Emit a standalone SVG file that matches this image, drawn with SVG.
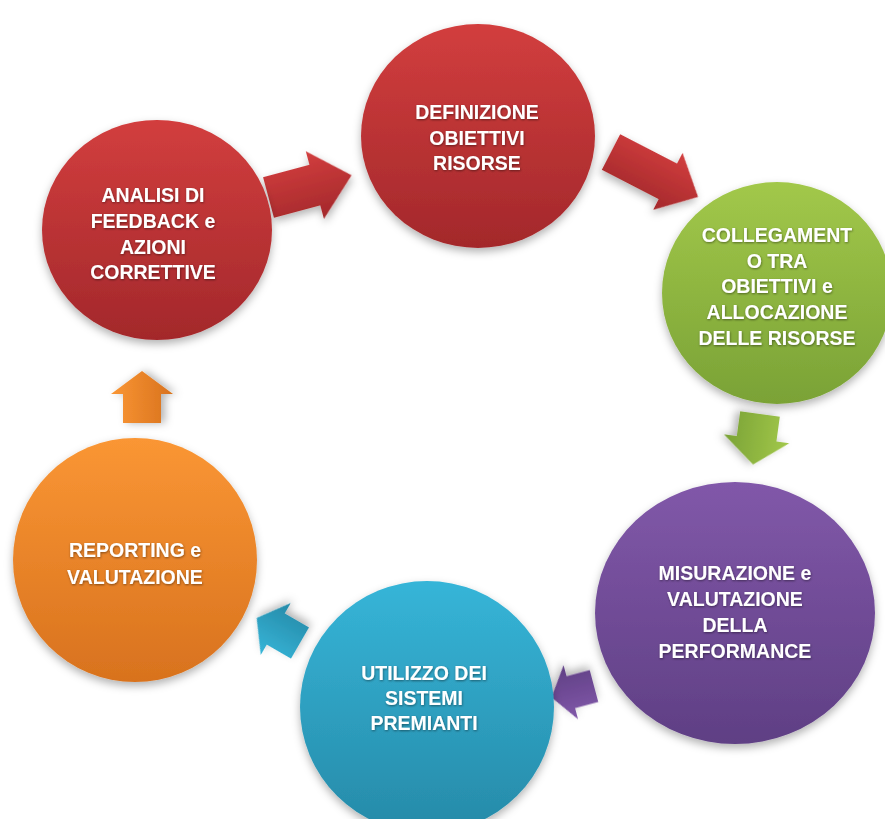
<svg xmlns="http://www.w3.org/2000/svg" width="885" height="819" viewBox="0 0 885 819">
<defs>
<linearGradient id="gRed" x1="0" y1="0" x2="0" y2="1"><stop offset="0" stop-color="#d23e3e"/><stop offset="1" stop-color="#a3282b"/></linearGradient>
<linearGradient id="gGreen" x1="0" y1="0" x2="0" y2="1"><stop offset="0" stop-color="#a2c84a"/><stop offset="1" stop-color="#7aa236"/></linearGradient>
<linearGradient id="gPurple" x1="0" y1="0" x2="0" y2="1"><stop offset="0" stop-color="#8158a9"/><stop offset="1" stop-color="#5f3f84"/></linearGradient>
<linearGradient id="gBlue" x1="0" y1="0" x2="0" y2="1"><stop offset="0" stop-color="#36b5d8"/><stop offset="1" stop-color="#268aa8"/></linearGradient>
<linearGradient id="gOrange" x1="0" y1="0" x2="0" y2="1"><stop offset="0" stop-color="#fa9634"/><stop offset="1" stop-color="#d8721e"/></linearGradient>
<filter id="sh" x="-20%" y="-20%" width="140%" height="140%"><feDropShadow dx="0" dy="4" stdDeviation="4" flood-color="#000" flood-opacity="0.3"/></filter>
<filter id="tsh" x="-10%" y="-30%" width="120%" height="160%"><feDropShadow dx="0.5" dy="1" stdDeviation="0.8" flood-color="#000" flood-opacity="0.45"/></filter>
</defs>
<style>
.lbl{font-family:"Liberation Sans",Arial,sans-serif;font-weight:bold;font-size:19.5px;fill:#ffffff;text-anchor:middle;filter:url(#tsh)}
.node{filter:url(#sh)}
</style>
<rect width="885" height="819" fill="#ffffff"/>
<g id="connectors">
<path class="node" fill="url(#gRed)" transform="translate(268.5,197.5) rotate(-15)" d="M0,-21 L48,-21 L48,-35 L86,0 L48,35 L48,21 L0,21 Z"/>
<path class="node" fill="url(#gRed)" transform="translate(611,152) rotate(27.3)" d="M0,-20 L64,-20 L64,-32 L98,0 L64,32 L64,20 L0,20 Z"/>
<path class="node" fill="url(#gGreen)" transform="translate(760,414) rotate(97.8)" d="M0,-20 L25,-20 L25,-33 L51,0 L25,33 L25,20 L0,20 Z"/>
<path class="node" fill="url(#gPurple)" transform="translate(594,686) rotate(165)" d="M0,-16.5 L24,-16.5 L24,-28 L44,0 L24,28 L24,16.5 L0,16.5 Z"/>
<path class="node" fill="url(#gBlue)" transform="translate(300,643) rotate(210)" d="M0,-18 L28,-18 L28,-30 L50,0 L28,30 L28,18 L0,18 Z"/>
<path class="node" fill="url(#gOrange)" transform="translate(142,423) rotate(-90)" d="M0,-19 L29,-19 L29,-31 L52,0 L29,31 L29,19 L0,19 Z"/>
</g>
<g id="n1">
<ellipse class="node" cx="478" cy="136" rx="117" ry="112" fill="url(#gRed)"/>
<text class="lbl" x="477" y="119">DEFINIZIONE</text>
<text class="lbl" x="477" y="145">OBIETTIVI</text>
<text class="lbl" x="477" y="170">RISORSE</text>
</g>
<g id="n2">
<ellipse class="node" cx="777" cy="293" rx="115" ry="111" fill="url(#gGreen)"/>
<text class="lbl" x="777" y="242">COLLEGAMENT</text>
<text class="lbl" x="777" y="268">O TRA</text>
<text class="lbl" x="777" y="293">OBIETTIVI e</text>
<text class="lbl" x="777" y="319">ALLOCAZIONE</text>
<text class="lbl" x="777" y="345">DELLE RISORSE</text>
</g>
<g id="n3">
<ellipse class="node" cx="735" cy="613" rx="140" ry="131" fill="url(#gPurple)"/>
<text class="lbl" x="735" y="580">MISURAZIONE e</text>
<text class="lbl" x="735" y="606">VALUTAZIONE</text>
<text class="lbl" x="735" y="632">DELLA</text>
<text class="lbl" x="735" y="658">PERFORMANCE</text>
</g>
<g id="n4">
<ellipse class="node" cx="427" cy="707" rx="127" ry="126" fill="url(#gBlue)"/>
<text class="lbl" x="424" y="680">UTILIZZO DEI</text>
<text class="lbl" x="424" y="705">SISTEMI</text>
<text class="lbl" x="424" y="730">PREMIANTI</text>
</g>
<g id="n5">
<ellipse class="node" cx="135" cy="560" rx="122" ry="122" fill="url(#gOrange)"/>
<text class="lbl" x="135" y="557">REPORTING e</text>
<text class="lbl" x="135" y="584">VALUTAZIONE</text>
</g>
<g id="n6">
<ellipse class="node" cx="157" cy="230" rx="115" ry="110" fill="url(#gRed)"/>
<text class="lbl" x="153" y="202">ANALISI DI</text>
<text class="lbl" x="153" y="228">FEEDBACK e</text>
<text class="lbl" x="153" y="254">AZIONI</text>
<text class="lbl" x="153" y="279">CORRETTIVE</text>
</g>
</svg>
